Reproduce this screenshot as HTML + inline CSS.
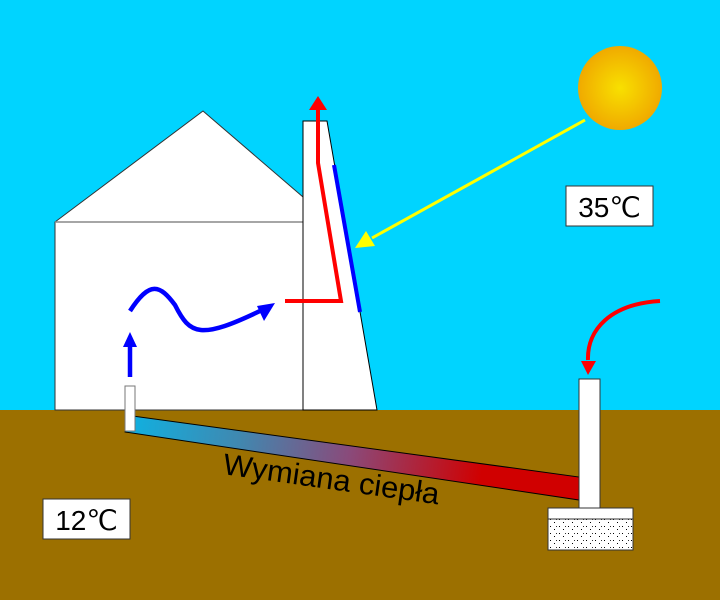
<!DOCTYPE html>
<html><head><meta charset="utf-8"><style>html,body{margin:0;padding:0}svg{display:block}</style></head>
<body>
<svg width="720" height="600" viewBox="0 0 720 600" xmlns="http://www.w3.org/2000/svg">
<defs>
<radialGradient id="sun" cx="0.5" cy="0.5" r="0.5"><stop offset="0" stop-color="#f8e000"/><stop offset="1" stop-color="#f0aa00"/></radialGradient>
<linearGradient id="pipe" gradientUnits="userSpaceOnUse" x1="130" y1="420" x2="570" y2="485"><stop offset="0" stop-color="#10b0e0"/><stop offset="0.25" stop-color="#4088b0"/><stop offset="0.5" stop-color="#8a4a7a"/><stop offset="0.8" stop-color="#d00000"/><stop offset="1" stop-color="#d00000"/></linearGradient>
<pattern id="dots" width="9" height="7" patternUnits="userSpaceOnUse"><rect width="9" height="7" fill="#fff"/><rect x="1" y="1" width="1" height="1" fill="#000"/><rect x="5" y="4" width="1" height="1" fill="#000"/><rect x="7" y="1" width="1" height="1" fill="#333"/></pattern>
</defs>
<rect width="720" height="410" fill="#00d4ff"/>
<rect y="410" width="720" height="190" fill="#9c7000"/>
<polygon points="55,222 203,111 303,197 303,410 55,410" fill="#fff" stroke="#333" stroke-width="1"/>
<line x1="55" y1="222" x2="303" y2="222" stroke="#888" stroke-width="1.5"/>
<polygon points="303,121 327,121 377,410 303,410" fill="#fff" stroke="#000" stroke-width="1"/>
<polygon points="125,415 579,477 579,500 125,432" fill="url(#pipe)" stroke="#000" stroke-width="1"/>
<rect x="125" y="386" width="10" height="45" fill="#fff" stroke="#777" stroke-width="1"/>
<text x="0" y="0" transform="translate(222,474) rotate(8)" font-family="Liberation Sans, sans-serif" font-size="30" textLength="218" lengthAdjust="spacingAndGlyphs" fill="#000">Wymiana ciepła</text>
<rect x="579" y="379" width="21" height="130" fill="#fff" stroke="#333" stroke-width="1"/>
<rect x="548" y="508" width="85" height="42" fill="url(#dots)" stroke="#333" stroke-width="1"/>
<rect x="548" y="508" width="85" height="11" fill="#fff" stroke="#333" stroke-width="1"/>
<path d="M660,301 C610,304 587,330 588,360" fill="none" stroke="#ff0000" stroke-width="4"/>
<polygon points="581,361 596,361 588,375" fill="#ff0000"/>
<path d="M285,301 L341,301 L318,163 L318,108" fill="none" stroke="#ff0000" stroke-width="4"/>
<polygon points="309,110 327,110 318,96" fill="#ff0000"/>
<line x1="334" y1="165" x2="360" y2="312" stroke="#0000ff" stroke-width="4"/>
<line x1="585" y1="120" x2="372" y2="238" stroke="#ffff00" stroke-width="3"/>
<polygon points="355,248 366,231 375,246" fill="#ffff00"/>
<circle cx="620" cy="88" r="42" fill="url(#sun)"/>
<line x1="130" y1="377" x2="130" y2="345" stroke="#0000ff" stroke-width="4.5"/>
<polygon points="123,347 137,347 130,332" fill="#0000ff"/>
<path d="M130,311 C150,280 160,285 175,305 C190,335 200,340 262,310" fill="none" stroke="#0000ff" stroke-width="4.5"/>
<polygon points="275,303 264,321 257,306" fill="#0000ff"/>
<rect x="566" y="186" width="87" height="40" fill="#fff" stroke="#333" stroke-width="1"/>
<text x="609.5" y="217" text-anchor="middle" font-family="Liberation Sans, sans-serif" font-size="28">35℃</text>
<rect x="43" y="499" width="87" height="40" fill="#fff" stroke="#333" stroke-width="1"/>
<text x="86.5" y="530" text-anchor="middle" font-family="Liberation Sans, sans-serif" font-size="28">12℃</text>
</svg>
</body></html>
